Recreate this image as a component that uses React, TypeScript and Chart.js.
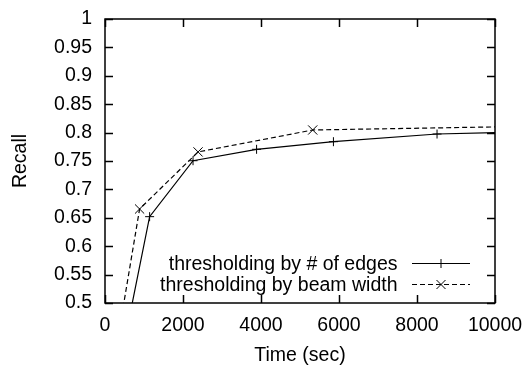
import React, { useEffect, useRef } from "react";
import { Chart, registerables } from "chart.js";

Chart.register(...registerables);

const edgesTime = [553, 1144, 2257, 3887, 5857, 8514, 10000];
const edgesRecall = [0.45, 0.652, 0.7505, 0.7706, 0.784, 0.7975, 0.7998];
const edgesMarks = [0, 1, 1, 1, 1, 1, 0];
const beamTime = [361, 887, 2386, 5326, 10000];
const beamRecall = [0.45, 0.6655, 0.766, 0.8046, 0.81];
const beamMarks = [0, 1, 1, 1, 0];
const seriesLabels = ["thresholding by # of edges", "thresholding by beam width"];
const xTickValues = [0, 2000, 4000, 6000, 8000, 10000];
const yTickValues = [0.5, 0.55, 0.6, 0.65, 0.7, 0.75, 0.8, 0.85, 0.9, 0.95, 1];
const xTitle = "Time (sec)";
const yTitle = "Recall";

const FONT = "'Liberation Sans', Arial, Helvetica, sans-serif";
const FS = 19.5;

const framePlugin = {
  id: "frame",
  afterDraw(chart: any) {
    const ctx = chart.ctx;
    const { left, right, top, bottom } = chart.chartArea;
    const xs = chart.scales.x;
    const ys = chart.scales.y;
    const T = 8;
    ctx.save();
    ctx.strokeStyle = "#000";
    ctx.lineWidth = 1.5;
    ctx.setLineDash([]);
    ctx.beginPath();
    for (const v of xTickValues) {
      const px = Math.round(xs.getPixelForValue(v)) + 0.5;
      ctx.moveTo(px, bottom);
      ctx.lineTo(px, bottom - T);
      ctx.moveTo(px, top);
      ctx.lineTo(px, top + T);
    }
    for (const v of yTickValues) {
      const py = Math.round(ys.getPixelForValue(v)) + 0.5;
      ctx.moveTo(left, py);
      ctx.lineTo(left + T, py);
      ctx.moveTo(right, py);
      ctx.lineTo(right - T, py);
    }
    ctx.stroke();
    ctx.strokeRect(left, top, right - left, bottom - top);

    // legend (gnuplot style: text, then sample line with marker)
    const textRight = 397.5;
    const sx0 = 412;
    const sx1 = 470;
    const rows = [263.5, 284.5];
    ctx.font = `${FS}px ${FONT}`;
    ctx.fillStyle = "#000";
    ctx.textAlign = "right";
    ctx.textBaseline = "middle";
    ctx.lineWidth = 1;
    seriesLabels.forEach((lab, i) => {
      const y = rows[i];
      ctx.fillText(lab, textRight, y + 1);
      ctx.setLineDash(i === 0 ? [] : [5, 3]);
      ctx.beginPath();
      ctx.moveTo(sx0, y);
      ctx.lineTo(sx1, y);
      ctx.stroke();
      ctx.setLineDash([]);
      const cx = (sx0 + sx1) / 2;
      ctx.beginPath();
      if (i === 0) {
        ctx.moveTo(cx - 4.5, y);
        ctx.lineTo(cx + 4.5, y);
        ctx.moveTo(cx, y - 4.5);
        ctx.lineTo(cx, y + 4.5);
      } else {
        ctx.moveTo(cx - 4.5, y - 4.5);
        ctx.lineTo(cx + 4.5, y + 4.5);
        ctx.moveTo(cx - 4.5, y + 4.5);
        ctx.lineTo(cx + 4.5, y - 4.5);
      }
      ctx.stroke();
    });
    ctx.restore();
  },
};

export default function App() {
  const ref = useRef<HTMLCanvasElement | null>(null);
  useEffect(() => {
    document.body.style.margin = "0";
    const canvas = ref.current!;
    const chart = new Chart(canvas, {
      type: "scatter",
      data: {
        datasets: [
          {
            label: seriesLabels[0],
            data: edgesTime.map((t, i) => ({ x: t, y: edgesRecall[i] })),
            showLine: true,
            borderColor: "#000",
            backgroundColor: "#000",
            borderWidth: 1.2,
            pointStyle: "cross",
            pointRadius: edgesMarks.map((m) => (m ? 4.5 : 0)),
            pointBorderWidth: 1,
            pointBorderColor: "#000",
          },
          {
            label: seriesLabels[1],
            data: beamTime.map((t, i) => ({ x: t, y: beamRecall[i] })),
            showLine: true,
            borderColor: "#000",
            backgroundColor: "#000",
            borderWidth: 1.2,
            borderDash: [5, 3],
            pointStyle: "crossRot",
            pointRadius: beamMarks.map((m) => (m ? 6.5 : 0)),
            pointBorderWidth: 1,
            pointBorderColor: "#000",
          },
        ],
      },
      options: {
        animation: false,
        responsive: false,
        devicePixelRatio: 1,
        layout: { padding: { top: 19, right: 31, left: 0, bottom: 0 } },
        plugins: { legend: { display: false }, tooltip: { enabled: false } },
        scales: {
          x: {
            type: "linear",
            min: 0,
            max: 10000,
            afterFit: (s: any) => {
              s.height = 62;
              s.paddingLeft = 0;
              s.paddingRight = 0;
            },
            afterBuildTicks: (s: any) => {
              s.ticks = xTickValues.map((v) => ({ value: v }));
            },
            border: { display: false },
            grid: { display: false, drawTicks: false },
            ticks: {
              padding: 11,
              color: "#000",
              font: { family: FONT, size: FS },
              maxRotation: 0,
              callback: (v: any) => String(v),
            },
            title: {
              display: true,
              text: xTitle,
              color: "#000",
              font: { family: FONT, size: FS },
              padding: { top: 0, bottom: -2.5 },
            },
          },
          y: {
            type: "linear",
            min: 0.5,
            max: 1,
            afterFit: (s: any) => {
              s.width = 105;
              s.paddingTop = 0;
              s.paddingBottom = 0;
            },
            afterBuildTicks: (s: any) => {
              s.ticks = yTickValues.map((v) => ({ value: v }));
            },
            border: { display: false },
            grid: { display: false, drawTicks: false },
            ticks: {
              padding: 13,
              color: "#000",
              font: { family: FONT, size: FS },
              callback: (v: any) => String(Number(Number(v).toFixed(2))),
            },
            title: {
              display: true,
              text: yTitle,
              color: "#000",
              font: { family: FONT, size: FS },
              padding: { top: 9, bottom: 0 },
            },
          },
        },
      },
      plugins: [framePlugin],
    } as any);
    return () => chart.destroy();
  }, []);
  return (
    <div style={{ position: "absolute", left: 0, top: 0, width: 526, height: 365 }}>
      <canvas ref={ref} width={526} height={365} style={{ width: 526, height: 365 }} />
    </div>
  );
}
